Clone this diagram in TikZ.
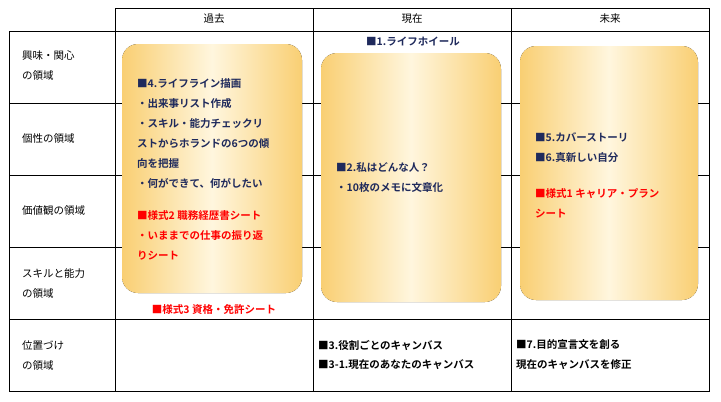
\documentclass[tikz,border=0pt]{standalone}
\usepackage{fontspec}
\setmainfont{Noto Sans CJK JP}
\newfontfamily\jpb{Noto Sans CJK JP Bold}
\definecolor{navy}{HTML}{1F2A5C}
\definecolor{gold}{HTML}{F9CF73}
\definecolor{pale}{HTML}{FFF6DE}
\begin{document}
\begin{tikzpicture}[x=1pt,y=-1pt,
  grid/.style={line width=0.8pt},
  card/.style={rounded corners=16pt,left color=gold,right color=gold,middle color=pale,draw=none},
  lbl/.style={anchor=west,font=\fontsize{10.5}{20}\selectfont,align=left,inner sep=0},
  btxt/.style={anchor=west,font=\jpb\fontsize{10.5}{20}\selectfont,align=left,inner sep=0,text=navy},
  rtxt/.style={btxt,text=red},
  ktxt/.style={btxt,text=black}]
\useasboundingbox (0,0) rectangle (721,402);
\draw[grid] (115,8) -- (709,8);
\draw[grid] (9,31) rectangle (709,391);
\foreach \y in {103,175,247,319} \draw[grid] (9,\y) -- (709,\y);
\foreach \x in {115,313,511} \draw[grid] (\x,8) -- (\x,391);
\draw[grid] (709,8) -- (709,31);
\node[lbl,anchor=center] (h1) at (214,19) {過去};
\node[lbl,anchor=center] (h2) at (412,19) {現在};
\node[lbl,anchor=center] (h3) at (610,19) {未来};
\node[lbl] (r1) at (22,66) {興味・関心\\の領域};
\node[lbl] (r2) at (22,139) {個性の領域};
\node[lbl] (r3) at (22,211) {価値観の領域};
\node[lbl] (r4) at (22,284) {スキルと能力\\の領域};
\node[lbl] (r5) at (22,356) {位置づけ\\の領域};
\fill[card] (122,44) rectangle (302,293);
\fill[card] (321,53) rectangle (501,302);
\fill[card] (520,46) rectangle (698,300);
\node[btxt,anchor=center,text=navy] (t1) at (413,42) {■1.ライフホイール};
\node[btxt] (t4) at (137,134) {■4.ライフライン描画\\・出来事リスト作成\\・スキル・能力チェックリ\\ストからホランドの6つの傾\\向を把握\\・何ができて、何がしたい};
\node[rtxt] (s2) at (137,235) {■様式2 職務経歴書シート\\・いままでの仕事の振り返\\りシート};
\node[rtxt,anchor=center] (s3) at (214,310) {■様式3 資格・免許シート};
\node[btxt] (t2) at (336,178) {■2.私はどんな人？\\・10枚のメモに文章化};
\node[btxt] (t5) at (535,148) {■5.カバーストーリ\\■6.真新しい自分};
\node[rtxt] (s1) at (535,203) {■様式1 キャリア・プラン\\シート};
\node[ktxt] (t3) at (318,355) {■3.役割ごとのキャンバス\\■3-1.現在のあなたのキャンバス};
\node[ktxt] (t7) at (516,355) {■7.目的宣言文を創る\\現在のキャンバスを修正};
\end{tikzpicture}
\end{document}
